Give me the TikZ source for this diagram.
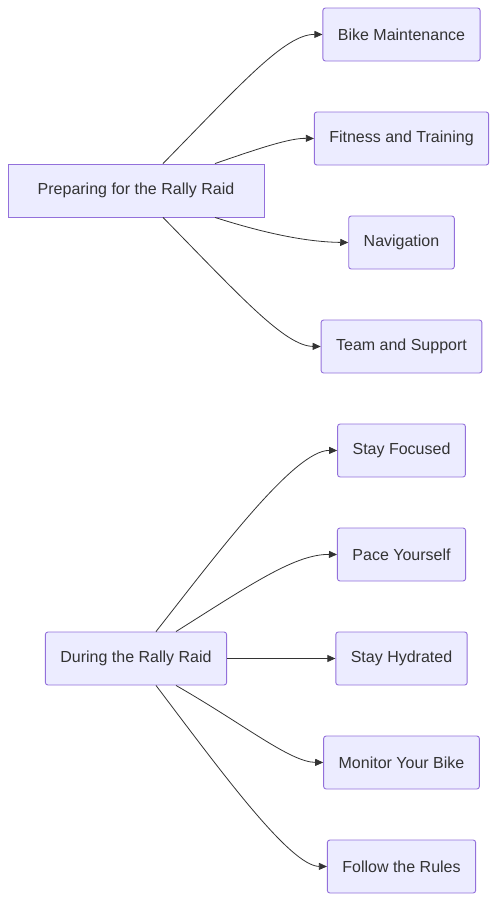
\documentclass[tikz,border=0pt]{standalone}
\usepackage{fontspec}
\setmainfont{Liberation Sans}
\usepackage{tikz}
\usetikzlibrary{arrows.meta,positioning}

\definecolor{boxfill}{HTML}{ECECFF}
\definecolor{boxline}{HTML}{9370DB}
\definecolor{ink}{HTML}{333333}

\begin{document}
\begin{tikzpicture}[x=1pt, y=-1pt,
		box/.style={draw=boxline, fill=boxfill, line width=0.9pt, rounded corners=2.5pt,
			minimum height=53pt, inner xsep=15pt, text=ink,
			font=\fontsize{16}{19}\selectfont},
		edge/.style={draw=ink, line width=0.8pt, -{Triangle[length=8pt,width=7pt]}}]
		\useasboundingbox (0,0) rectangle (497,902);

		\node[box, rounded corners=0pt, minimum width=256pt] (prep) at (136, 190.5) {Preparing for the Rally Raid};
		\node[box] (bike) at (401.5, 34.5) {Bike Maintenance};
		\node[box] (fitness) at (401.5, 138.5) {Fitness and Training};
		\node[box] (nav) at (401.5, 242.5) {Navigation};
		\node[box] (team) at (401.5, 346.5) {Team and Support};

		\node[box] (during) at (136, 658.5) {During the Rally Raid};
		\node[box] (focus) at (401.5, 450.5) {Stay Focused};
		\node[box] (pace) at (401.5, 554.5) {Pace Yourself};
		\node[box] (hydrate) at (401.5, 658.5) {Stay Hydrated};
		\node[box] (monitor) at (401.5, 762.5) {Monitor Your Bike};
		\node[box] (rules) at (401.5, 866.5) {Follow the Rules};

		\draw [edge] ([xshift=27pt]prep.north) .. controls (240,85) and (285,34) .. (bike.west);
		\draw [edge] ([xshift=79pt]prep.north) .. controls (260,148) and (290,138) .. (fitness.west);
		\draw [edge] ([xshift=79pt]prep.south) .. controls (270,235) and (310,242) .. (nav.west);
		\draw [edge] ([xshift=27pt]prep.south) .. controls (240,296) and (285,346) .. (team.west);

		\draw [edge] ([xshift=20pt]during.north) .. controls (220,550) and (295,450) .. (focus.west);
		\draw [edge] ([xshift=40pt]during.north) .. controls (250,585) and (295,554) .. (pace.west);
		\draw [edge] (during.east) to (hydrate.west);
		\draw [edge] ([xshift=40pt]during.south) .. controls (245,725) and (290,762) .. (monitor.west);
		\draw [edge] ([xshift=20pt]during.south) .. controls (220,770) and (290,866) .. (rules.west);
		\end{tikzpicture}
\end{document}
